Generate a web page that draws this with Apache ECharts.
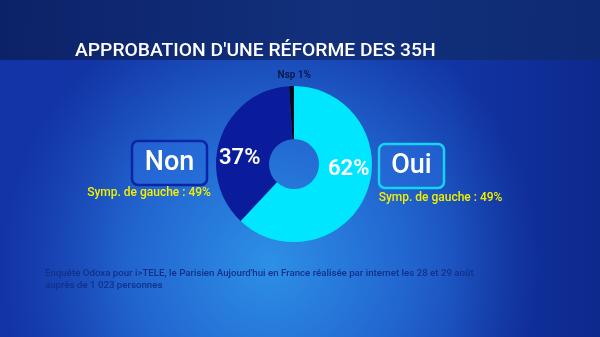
<!DOCTYPE html>
<html>
<head>
<meta charset="utf-8">
<script src="https://cdn.jsdelivr.net/npm/echarts@6/dist/echarts.min.js"></script>
<style>
  html, body { margin: 0; padding: 0; background: #1a4fc0; }
  #chart { width: 600px; height: 337px; }
</style>
</head>
<body>
<div id="chart"></div>
<script>
// Survey answers, clockwise from 12 o'clock
const answers = ['Oui', 'Non', 'Nsp'];
const shares = [62, 37, 1];
const sliceColors = ['#00e6ff', '#0a1c9c', '#050a1e'];
const leftNote = 'Symp. de gauche : 49%';
const rightNote = 'Symp. de gauche : 49%';
const titleText = "APPROBATION D'UNE RÉFORME DES 35H";
const sourceLines = [
  "Enquête Odoxa pour i>TELE, le Parisien Aujourd'hui en France réalisée par internet les 28 et 29 août",
  'auprès de 1 023 personnes'
];

const FONT = 'Roboto, "DejaVu Sans", sans-serif';

// label nudges per slice (pixels)
const labelShift = {
  Oui: { dx: 4, dy: -15, size: 22, color: '#ffffff' },
  Non: { dx: -3, dy: 13, size: 22, color: '#ffffff' },
  Nsp: { dx: 2, dy: -34, size: 10, color: '#0a1a50' }
};

const chart = echarts.init(document.getElementById('chart'), null, { renderer: 'canvas' });

const option = {
  animation: false,
  graphic: [
    // lower backdrop with a soft light patch
    {
      type: 'rect', z: -10, silent: true,
      shape: { x: 0, y: 0, width: 600, height: 337 },
      style: {
        fill: {
          type: 'radial', x: 0.45, y: 0.78, r: 0.8,
          colorStops: [
            { offset: 0, color: '#2d90e6' },
            { offset: 0.5, color: '#2266d0' },
            { offset: 1, color: '#1234a4' }
          ]
        }
      }
    },
    // side shading
    {
      type: 'rect', z: -9, silent: true,
      shape: { x: 0, y: 60, width: 600, height: 277 },
      style: {
        fill: {
          type: 'linear', x: 0, y: 0, x2: 1, y2: 0,
          colorStops: [
            { offset: 0, color: 'rgba(20,50,170,0.35)' },
            { offset: 0.2, color: 'rgba(20,50,170,0)' },
            { offset: 0.75, color: 'rgba(10,30,120,0)' },
            { offset: 1, color: 'rgba(10,30,120,0.5)' }
          ]
        }
      }
    },
    // title band
    {
      type: 'rect', z: -8, silent: true,
      shape: { x: 0, y: 0, width: 600, height: 60 },
      style: {
        fill: {
          type: 'linear', x: 0, y: 0, x2: 1, y2: 0.3,
          colorStops: [
            { offset: 0, color: '#0c2268' },
            { offset: 0.55, color: '#12307c' },
            { offset: 1, color: '#0e2a74' }
          ]
        }
      }
    },
    {
      type: 'text', x: 75, y: 51, z: 5, scaleX: 1.015,
      style: { text: titleText, fill: '#ffffff', font: '500 19px ' + FONT, verticalAlign: 'middle' }
    },
    // Non badge
    {
      type: 'rect', z: 2,
      shape: { x: 132, y: 141, width: 75, height: 44, r: 6 },
      style: { fill: 'rgba(40,110,220,0.55)', stroke: '#0b25a6', lineWidth: 2.5 }
    },
    {
      type: 'text', z: 3, x: 169.5, y: 163,
      style: { text: answers[1], fill: '#ffffff', font: '500 27px ' + FONT, align: 'center', verticalAlign: 'middle' }
    },
    // Oui badge
    {
      type: 'rect', z: 2,
      shape: { x: 379, y: 144, width: 65, height: 44, r: 6 },
      style: { fill: 'rgba(40,110,220,0.55)', stroke: '#14d4f4', lineWidth: 2.5 }
    },
    {
      type: 'text', z: 3, x: 411.5, y: 166,
      style: { text: answers[0], fill: '#ffffff', font: '500 27px ' + FONT, align: 'center', verticalAlign: 'middle' }
    },
    {
      type: 'text', z: 3, x: 149, y: 193,
      style: { text: leftNote, fill: '#f2f000', font: '500 12px ' + FONT, align: 'center', verticalAlign: 'middle' }
    },
    {
      type: 'text', z: 3, x: 440.5, y: 198,
      style: { text: rightNote, fill: '#f2f000', font: '500 12px ' + FONT, align: 'center', verticalAlign: 'middle' }
    },
    {
      type: 'text', z: 3, x: 45, y: 268,
      style: { text: sourceLines.join('\n'), fill: '#12308a', font: '500 9.7px ' + FONT, lineHeight: 12 }
    }
  ],
  series: [{
    type: 'pie',
    center: ['49%', '48.7%'],
    radius: [25, 78],
    startAngle: 90,
    clockwise: true,
    silent: true,
    label: {
      show: true,
      position: 'inside',
      formatter: p => (p.name === 'Nsp' ? 'Nsp ' : '') + p.value + '%',
      fontFamily: FONT
    },
    labelLine: { show: false },
    labelLayout: p => {
      const s = labelShift[answers[p.dataIndex]];
      return { dx: s.dx, dy: s.dy };
    },
    data: answers.map((a, i) => ({
      name: a,
      value: shares[i],
      itemStyle: { color: sliceColors[i] },
      label: {
        fontSize: labelShift[a].size,
        fontWeight: a === 'Nsp' ? 'bold' : 600,
        color: labelShift[a].color
      }
    }))
  }]
};

chart.setOption(option);
</script>
</body>
</html>
